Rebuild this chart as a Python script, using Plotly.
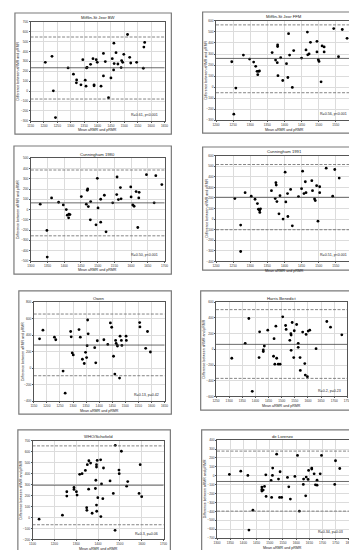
import plotly.graph_objects as go

W, H = 357, 550

# ---------------- data ----------------
titles = ["Mifflin-St Jeor BW", "Mifflin-St Jeor FFM", "Cunningham 1980", "Cunningham 1991",
          "Owen", "Harris Benedict", "WHO/Schofield", "de Lorenzo"]
r_labels = ["R=0.61, p<0.001", "R=0.56, p<0.001", "R=0.50, p<0.001", "R=0.51, p<0.001",
            "R=0.13, p=0.42", "R=0.2, p=0.23", "R=0.3, p=0.06", "R=0.34, p=0.03"]
y_title = "Difference between aRMR and pRMR"
x_title = "Mean aRMR and pRMR"

mifflin_bw_mean = [1205, 1230, 1235, 1243, 1290, 1310, 1322, 1321, 1338, 1345, 1354, 1357, 1359, 1361,
                   1374, 1383, 1387, 1387, 1395, 1399, 1413, 1422, 1422, 1429, 1441, 1450, 1455, 1461,
                   1460, 1462, 1469, 1476, 1488, 1490, 1494, 1498, 1512, 1520, 1524, 1546, 1571, 1573, 1576]
mifflin_bw_diff = [290, 350, 3, -267, 233, 170, 113, 83, 63, 317, 110, 50, 233, 240,
                   270, 327, 53, 63, 317, 290, 50, 380, 153, 297, -67, 133, 327, 483,
                   213, 277, 387, 273, 237, 307, 290, 370, 570, 340, 283, 290, 230, 443, 490]

mifflin_ffm_mean = [1246, 1252, 1258, 1280, 1298, 1310, 1316, 1320, 1322, 1324, 1327, 1364, 1374, 1379,
                    1380, 1380, 1381, 1389, 1395, 1406, 1410, 1412, 1415, 1423, 1427, 1450, 1463, 1467,
                    1468, 1472, 1476, 1495, 1495, 1499, 1501, 1507, 1510, 1516, 1516, 1544, 1558, 1569, 1583]
mifflin_ffm_diff = [230, -245, -9, 290, 254, 227, 188, 143, 113, 143, 146, 313, 245, 221,
                    382, 367, 104, 266, 60, 212, 87, 484, 290, -3, 331, 263, 337, 499,
                    293, 301, 406, 319, 415, 248, 233, 48, 373, 319, 364, 531, 275, 522, 442]

cunningham80_mean = [1328, 1348, 1349, 1362, 1383, 1397, 1406, 1409, 1414, 1417, 1413, 1451, 1466, 1469,
                     1470, 1472, 1479, 1478, 1495, 1499, 1501, 1509, 1509, 1520, 1525, 1545, 1557, 1558,
                     1562, 1568, 1570, 1599, 1600, 1605, 1609, 1615, 1620, 1624, 1623, 1646, 1669, 1674, 1692]
cunningham80_diff = [52, -204, -463, 113, 71, 45, 0, -55, -45, -49, -81, 126, 52, 188,
                     200, 29, 78, -100, -149, 304, 16, 100, -123, 139, -217, 65, 146, 317,
                     97, 214, 104, 220, 123, 45, 32, 175, -175, 168, 113, 340, 65, 330, 243]

cunningham91_mean = [1255, 1272, 1272, 1285, 1303, 1314, 1321, 1324, 1327, 1328, 1330, 1362, 1373, 1375,
                     1376, 1378, 1384, 1387, 1396, 1402, 1404, 1409, 1410, 1418, 1423, 1441, 1450, 1453,
                     1457, 1461, 1463, 1480, 1482, 1488, 1490, 1494, 1498, 1503, 1503, 1522, 1541, 1547, 1560]
cunningham91_diff = [194, -56, -306, 250, 216, 188, 147, 94, 84, 63, 97, 269, 194, 344,
                     322, 166, 50, 222, 0, 444, 163, 241, 25, 281, -63, 213, 288, 453,
                     241, 353, 250, 363, 269, 191, 175, 316, -19, 250, 306, 481, 216, 469, 388]

owen_mean = [1172, 1185, 1229, 1234, 1262, 1270, 1291, 1293, 1297, 1301, 1323, 1328, 1336, 1343,
             1348, 1352, 1354, 1356, 1358, 1383, 1387, 1393, 1418, 1433, 1443, 1448, 1455, 1460,
             1463, 1465, 1469, 1470, 1478, 1480, 1485, 1487, 1503, 1504, 1555, 1556, 1578, 1585, 1596]
owen_diff = [356, 460, 376, 344, -36, -304, 444, 380, 184, 160, 468, 376, 108, 56,
             192, 128, 272, 584, 416, 248, 64, 332, 344, 288, 548, 496, 144, -72,
             336, 300, 280, 268, -120, 388, 336, 276, 388, 336, 552, 500, 240, 444, 196]

harris_mean = [1310, 1361, 1375, 1388, 1414, 1416, 1430, 1430, 1434, 1447, 1469, 1471, 1474, 1478,
               1481, 1487, 1494, 1504, 1515, 1517, 1531, 1535, 1536, 1536, 1540, 1546, 1548, 1557,
               1563, 1563, 1570, 1571, 1580, 1588, 1590, 1593, 1598, 1601, 1607, 1631, 1672, 1686, 1729]
harris_diff = [-114, 76, 392, -535, -105, 223, -8, -29, 42, 244, -88, 135, -189, 295,
               -114, -189, -189, 413, 303, 253, 114, 198, 181, -13, 341, -105, 236, 316,
               76, 25, -105, -269, 219, -181, -328, 189, -349, 232, 244, 8, 354, 282, 185]

who_mean = [1130, 1237, 1257, 1257, 1290, 1290, 1301, 1304, 1316, 1327, 1342, 1348, 1349, 1351,
            1358, 1357, 1366, 1373, 1388, 1390, 1393, 1393, 1393, 1394, 1396, 1399, 1412, 1413,
            1416, 1422, 1425, 1455, 1470, 1478, 1479, 1496, 1497, 1507, 1531, 1536, 1593, 1588, 1600]
who_diff = [-15, 21, 196, 235, 274, 256, 235, 205, 394, 400, 430, 90, 66, 482,
            518, 259, 497, 39, 265, 340, 482, 461, 114, 57, 521, 181, 527, 9,
            307, 172, 452, 334, 220, -117, 659, 433, 400, 605, 286, 328, 482, 220, 190]

delorenzo_mean = [1347, 1390, 1417, 1421, 1436, 1470, 1470, 1470, 1475, 1480, 1485, 1486, 1505, 1507,
                  1510, 1511, 1526, 1533, 1537, 1539, 1545, 1567, 1572, 1578, 1595, 1605, 1612, 1627,
                  1628, 1636, 1638, 1645, 1647, 1659, 1659, 1668, 1673, 1679, 1679, 1691, 1696, 1746, 1749, 1765]
delorenzo_diff = [15, 52, 4, -610, -386, -127, -154, -172, -161, -120, 11, -232, -52, -243,
                  4, 86, 243, -37, -243, 45, -243, -19, -124, -262, -7, 228, -397, -97,
                  -37, -225, -15, -41, 60, 86, 75, 22, -101, -105, -49, 22, 228, -97, 169, 82]

bias = [235, 260, 65, 206, 280, 63, 295, -64]
upper_loa = [545, 564, 385, 516, 656, 505, 654, 277]
lower_loa = [-80, -51, -256, -100, -92, -370, -66, -397]

x_ranges = [(1150, 1650), (1200, 1600), (1300, 1700), (1200, 1600),
            (1150, 1650), (1250, 1750), (1100, 1700), (1300, 1800)]
y_ranges = [(-300, 700), (-300, 600), (-500, 500), (-400, 600),
            (-400, 800), (-600, 600), (-200, 700), (-700, 400)]
x_dticks = [50, 50, 50, 50, 50, 50, 100, 50]
y_dticks = [100, 100, 100, 100, 200, 200, 100, 100]

means = [mifflin_bw_mean, mifflin_ffm_mean, cunningham80_mean, cunningham91_mean,
         owen_mean, harris_mean, who_mean, delorenzo_mean]
diffs = [mifflin_bw_diff, mifflin_ffm_diff, cunningham80_diff, cunningham91_diff,
         owen_diff, harris_diff, who_diff, delorenzo_diff]

# ---------------- layout (pixels) ----------------
plot_boxes = [(19, 156, 11.7, 111.7), (208.7, 348.7, 11, 111),
              (19.3, 156, 149.3, 252.7), (208.7, 348.7, 146.7, 253.3),
              (22.3, 156, 294.3, 394), (208.7, 343, 294.3, 389.3),
              (21, 155, 434, 533.3), (209.7, 344.7, 433.3, 532)]
frames = [(3, 163, 3, 125), (195, 354, 2, 124), (2, 163, 137, 266), (195, 354, 138, 262),
          (7, 163, 283, 407), (193, 353, 283, 403), (6, 162, 423, 547), (194, 354, 423, 545)]

def px(x):
    return x / W

def py(y):
    return 1 - y / H

fig = go.Figure()
shapes = []
annotations = []
FONT = "Liberation Sans, Arial, sans-serif"
lay = {}

for i in range(8):
    n = i + 1
    xa = "x" if n == 1 else f"x{n}"
    ya = "y" if n == 1 else f"y{n}"
    x0, x1, y0, y1 = plot_boxes[i]
    fig.add_trace(go.Scatter(x=means[i], y=diffs[i], mode="markers", xaxis=xa, yaxis=ya,
                             marker=dict(size=2.8, color="black"), showlegend=False,
                             hoverinfo="x+y"))
    axstyle = dict(showgrid=True, gridcolor="#dcdcdc", gridwidth=0.6, zeroline=False,
                   showline=True, linecolor="#555", linewidth=0.8, mirror=True,
                   ticks="outside", ticklen=1, tickcolor="#555", tickwidth=0.6,
                   tickfont=dict(size=3.2, color="#333", family=FONT))
    lay["xaxis" if n == 1 else f"xaxis{n}"] = dict(
        domain=[px(x0), px(x1)], anchor=ya, range=list(x_ranges[i]),
        tick0=x_ranges[i][0], dtick=x_dticks[i], **axstyle)
    lay["yaxis" if n == 1 else f"yaxis{n}"] = dict(
        domain=[py(y1), py(y0)], anchor=xa, range=list(y_ranges[i]),
        tick0=0, dtick=y_dticks[i], **axstyle)
    # bias and limits of agreement
    for val, dash, col in [(bias[i], "solid", "#444"), (upper_loa[i], "3px,1.5px", "#666"),
                           (lower_loa[i], "3px,1.5px", "#666")]:
        shapes.append(dict(type="line", xref=f"{xa} domain", yref=ya, x0=0, x1=1,
                           y0=val, y1=val, line=dict(color=col, width=0.8, dash=dash)))
    # frame
    fx0, fx1, fy0, fy1 = frames[i]
    shapes.append(dict(type="rect", xref="paper", yref="paper", x0=px(fx0), x1=px(fx1),
                       y0=py(fy1), y1=py(fy0), line=dict(color="#7a7a7a", width=1.2)))
    # title
    annotations.append(dict(text=titles[i], xref="paper", yref="paper",
                            x=px((x0 + x1) / 2), y=py(y0 - 4), showarrow=False,
                            font=dict(size=4.2, color="#222", family=FONT),
                            xanchor="center", yanchor="middle"))
    # y title
    annotations.append(dict(text=y_title, xref="paper", yref="paper",
                            x=px(fx0 + 3.5), y=py((y0 + y1) / 2), showarrow=False,
                            textangle=-90, font=dict(size=3.5, color="#222", family=FONT),
                            xanchor="center", yanchor="middle"))
    # x title
    annotations.append(dict(text=x_title, xref="paper", yref="paper",
                            x=px((x0 + x1) / 2), y=py(y1 + 9.5), showarrow=False,
                            font=dict(size=3.6, color="#222", family=FONT),
                            xanchor="center", yanchor="middle"))
    # R annotation
    annotations.append(dict(text=r_labels[i], xref=f"{xa} domain", yref=f"{ya} domain",
                            x=0.97, y=0.06, showarrow=False,
                            font=dict(size=3.6, color="#222", family=FONT),
                            xanchor="right", yanchor="middle"))

fig.update_layout(width=W, height=H, margin=dict(l=0, r=0, t=0, b=0),
                  paper_bgcolor="white", plot_bgcolor="white",
                  shapes=shapes, annotations=annotations, **lay)

fig.write_html("out.html")
